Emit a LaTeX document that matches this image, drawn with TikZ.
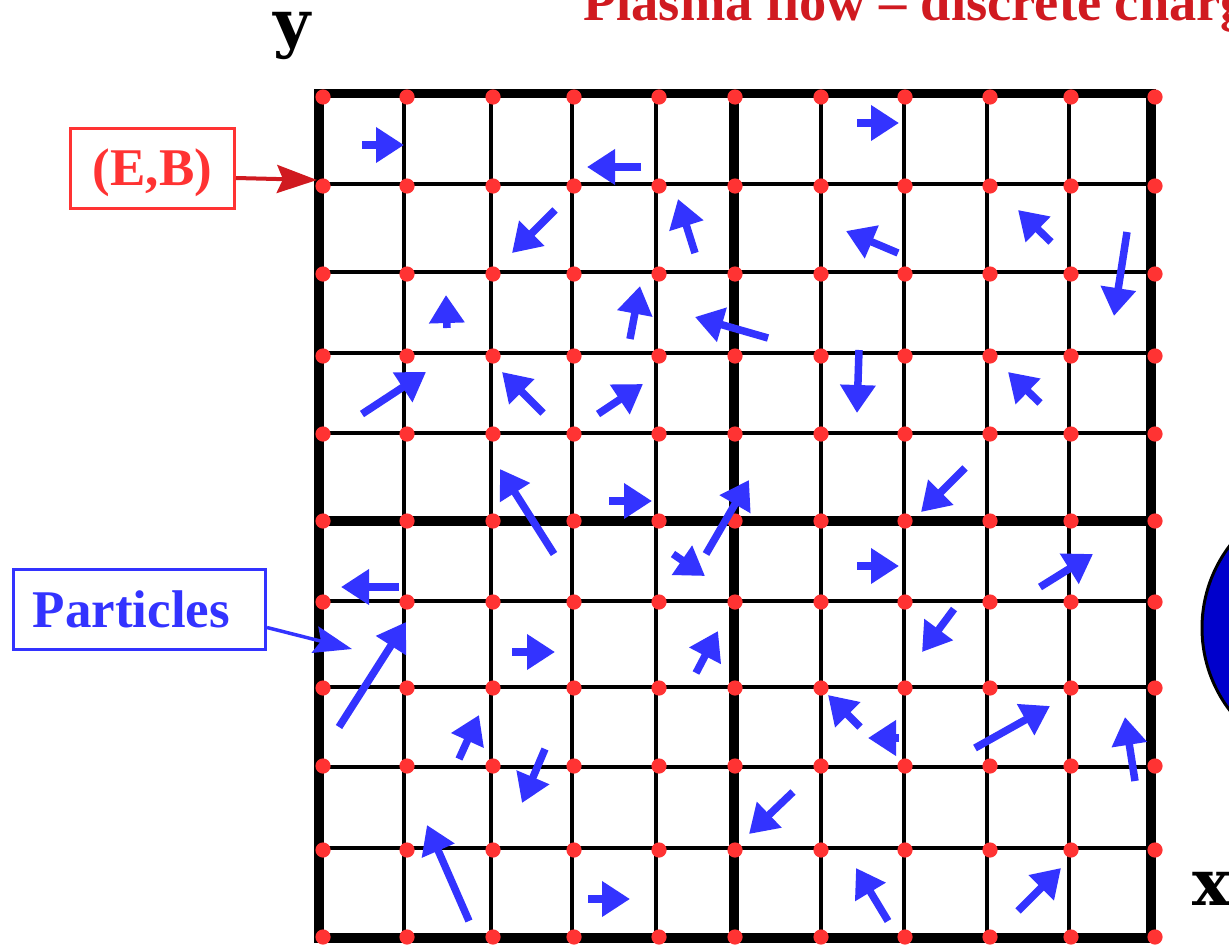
\documentclass[tikz,border=0pt]{standalone}
\usepackage{fontspec}
\setmainfont{Liberation Serif}
\newfontfamily\axisfont{DejaVu Serif}
\usetikzlibrary{arrows.meta}
\definecolor{dotred}{RGB}{255,51,51}
\definecolor{pblue}{RGB}{51,51,255}
\definecolor{darkred}{RGB}{208,26,32}
\definecolor{ballblue}{RGB}{0,0,204}
\begin{document}
\begin{tikzpicture}[x=1pt,y=-1pt,
  thingrid/.style={line width=3.4pt},
  thickgrid/.style={line width=9.5pt},
  particle/.style={pblue, line width=7.5pt, -{Triangle[length=28pt,width=34pt]}},
  labelbox/.style={draw, line width=3pt, inner sep=0pt, text height=35pt, text depth=0pt,
    font=\bfseries\fontsize{53}{53}\selectfont},
  axislabel/.style={anchor=base west, inner sep=0pt, font=\axisfont\bfseries\fontsize{64}{64}\selectfont}
]
\useasboundingbox (0,0) rectangle (1229,945);
\begin{scope}
\clip (0,0) rectangle (1229,945);
% thin grid lines
\foreach \x in {404,491,572,656,821,904,987,1069}
  \draw[thingrid] (\x,93) -- (\x,938);
\foreach \y in {184,272,353,433,601,687,767,848}
  \draw[thingrid] (319,\y) -- (1151,\y);
% thick lines
\draw[thickgrid] (319,93.5) rectangle (1151,938);
\draw[thickgrid] (734,93.5) -- (734,938);
\draw[thickgrid] (319,521) -- (1151,521);
% field points
\foreach \x in {323,407,493,574,659,735,821,905,990,1071,1155}
  \foreach \y in {97,186,274,356,434,521,602,688,766,850,937}
    \fill[dotred] (\x,\y) circle (7.6pt);
% particles
\foreach \a/\b/\c/\d in {362/145/404/145, 641/167/587/167, 555/210/512/253, 695/253/678/199,
  447/328/446/295, 630/339/640/286, 768/338/695/317, 857/123/899/123, 898/253/846/231,
  1051/242/1018/210, 1127/232/1114/316, 362/414/426/372, 543/413/502/372, 598/414/643/384,
  554/554/500/469, 609/501/652/501, 706/554/749/480, 673/554/705/576, 399/587/341/587,
  339/727/406/622, 512/652/555/652, 696/673/718/631, 859/350/857/413, 1040/403/1008/372,
  965/468/921/512, 857/566/899/566, 1040/587/1093/554, 954/609/922/652, 459/759/479/715,
  545/749/522/803, 469/921/427/825, 588/899/630/899, 860/727/828/695, 899/738/868/738,
  975/748/1050/706, 1135/781/1125/717, 793/792/749/834, 888/921/856/868, 1018/911/1061/868}
  \draw[particle] (\a,\b) -- (\c,\d);
% ball
\draw[line width=3pt, fill=ballblue] (1338,628) circle (136pt);
% title and axes
\node[anchor=base west, inner sep=0pt, text=darkred, font=\bfseries\fontsize{54.5}{54.5}\selectfont] (title) at (583,20) {Plasma flow – discrete charges};
\node[axislabel] (ylab) at (273,45) {y};
\node[axislabel] (xlab) at (1192,905) {x};
% labels
\node[labelbox, draw=dotred, text=dotred, minimum width=164pt, minimum height=80pt] (EB) at (152.5,168) {(E,B)};
\node[labelbox, draw=pblue, text=pblue, minimum width=252pt, minimum height=80pt, text height=36pt] (P) at (139.5,609.5) {Particles\kern16pt};
\coordinate (ebtip) at (317,180);
\coordinate (ptip) at (352,649);
\draw[darkred, line width=4pt, -{Stealth[length=40pt,width=28pt,inset=6pt]}] ([yshift=-10pt]EB.east) -- (ebtip);
\draw[pblue, line width=3.5pt, -{Stealth[length=38pt,width=27pt,inset=6pt]}] ([yshift=-18pt]P.east) -- (ptip);
\end{scope}
\end{tikzpicture}
\end{document}
